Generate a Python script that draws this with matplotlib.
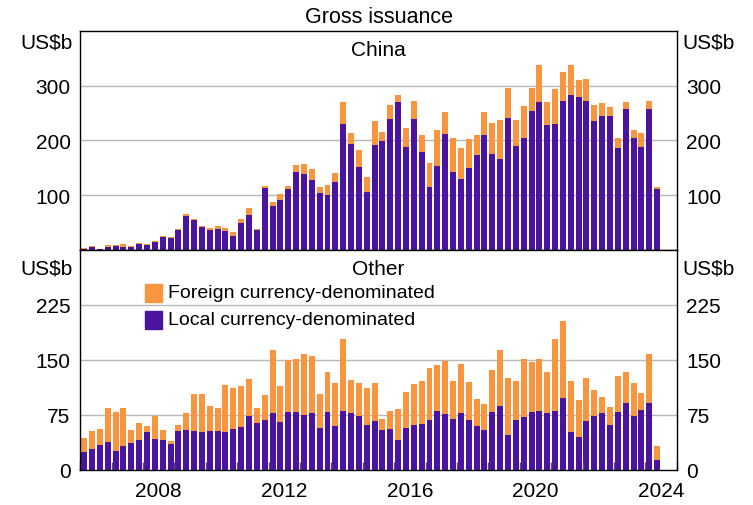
import matplotlib
matplotlib.use("Agg")
import matplotlib.pyplot as plt
import matplotlib.patches as mpatches
import numpy as np
import pandas as pd

plt.rcParams['font.family'] = ['Liberation Sans', 'DejaVu Sans']

# Quarterly, 2006 Q1 to 2024 Q2 (US$b)
quarters = pd.period_range("2006Q1", "2024Q2", freq="Q")

china_local = [2, 6, 1, 5.5, 7, 5.5, 5.5, 11, 9.7, 15,
               24, 22.5, 37, 62.5, 55, 42.5, 37, 39, 35, 26,
               50, 64, 37, 113, 81, 92, 112, 143, 139, 128,
               104, 101, 124, 230, 194, 152, 106, 192, 199, 239,
               270, 188, 239, 179, 115, 154, 212, 143, 130, 150,
               174, 210, 175, 166, 241, 190, 205, 254, 270, 228,
               230, 272, 283, 279, 272, 236, 245, 245, 186, 258,
               205, 188, 258, 112]
china_foreign = [2, 2, 1.5, 4, 3, 6, 2, 2, 2, 2,
                 2, 2, 2, 3.5, 2, 2, 4, 5, 5.5, 7,
                 7, 13, 2, 4, 7, 11, 5, 12, 18, 20,
                 11, 18, 17, 40, 20, 31, 28, 44, 16, 26,
                 13, 35, 33, 31, 44, 66, 40, 62, 56, 53,
                 36, 42, 57, 71, 55, 47, 58, 42, 68, 42,
                 64, 53, 55, 31, 40, 29, 23, 16, 19, 12,
                 14, 26, 14, 3]

other_local = [24.5, 28.6, 34.5, 38.6, 26.4, 33, 37, 41, 52, 42.7,
               41, 36, 53.6, 55, 53.6, 52, 53.6, 53.6, 52, 56.4,
               59, 74, 64.5, 68.6, 78, 66, 79.5, 79.5, 75.5, 78,
               57.7, 79.5, 60.5, 81, 78, 74, 61.8, 67, 55, 56.4,
               41.4, 57.7, 61.8, 63, 68.6, 81, 76.8, 70, 78, 68.6,
               60.5, 55, 79.5, 87.7, 48, 68.6, 72.7, 79.5, 81, 78,
               81, 98.6, 52, 45.5, 67, 74, 78, 61.8, 79.5, 91.8,
               74, 82, 91.8, 14]
other_foreign = [19.5, 25, 22, 46, 52, 52, 17, 23.5, 8.5, 31,
                 14, 4, 8, 23, 50, 51, 34, 31, 64, 55,
                 55, 50, 20.5, 34, 86, 49, 70.5, 72.5, 83, 78,
                 46, 54.5, 58.5, 97, 45, 44, 50, 52, 15, 24.6,
                 42, 49, 56, 59, 71, 62.6, 72, 52, 67, 52,
                 36.5, 35.4, 57, 76, 78, 53, 79, 68, 71, 56,
                 98, 105, 70, 50.5, 59, 35.5, 22, 24.6, 49, 42,
                 44, 23.4, 67, 19]

ORANGE = "#F9943F"
PURPLE = "#4B14A0"
FS = 15

x = np.array([q.year + (q.quarter - 0.5) / 4 for q in quarters])
width = 0.19

fig = plt.figure(figsize=(7.53, 5.06), dpi=100)
ax1 = fig.add_axes([0.1066, 0.504, 0.7921, 0.4328])
ax2 = fig.add_axes([0.1066, 0.0692, 0.7921, 0.4348])

panels = [
    (ax1, china_local, china_foreign, "China", 400, [100, 200, 300], 0.925),
    (ax2, other_local, other_foreign, "Other", 300, [0, 75, 150, 225], 0.893),
]

for ax, local, foreign, name, top, ticks, unit_y in panels:
    ax.bar(x, local, width=width, color=PURPLE, zorder=2)
    ax.bar(x, foreign, width=width, bottom=local, color=ORANGE, zorder=2)
    ax.set_xlim(2006, 2025)
    ax.set_ylim(0, top)
    ax.set_yticks(ticks)
    ax.set_axisbelow(False)
    # gridlines below the bars, axis ticks above them
    for t in ticks:
        if t > 0:
            ax.axhline(t, color="#b8b8b8", lw=1, zorder=1)
    ax.tick_params(axis="y", left=True, right=True, labelleft=True,
                   labelright=True, length=0, pad=7, labelsize=FS)
    for s in ax.spines.values():
        s.set_color("black")
        s.set_linewidth(1)
        s.set_zorder(3)
    ax.text(0.5, 0.89, name, transform=ax.transAxes, ha="center",
            va="baseline", fontsize=FS)
    ax.text(-0.012, unit_y, "US$b", transform=ax.transAxes, ha="right",
            va="baseline", fontsize=FS)
    ax.text(1.01, unit_y, "US$b", transform=ax.transAxes, ha="left",
            va="baseline", fontsize=FS)

# x axis: year boundary ticks, labels in the middle of the year
ax1.set_xticks([])
ax2.set_xticks(np.arange(2006, 2026))
ax2.set_xticklabels([])
ax2.tick_params(axis="x", which="major", direction="in", length=6,
                width=1, color="#555555", top=False)
ax2.set_xticks(np.arange(2008, 2025, 4) + 0.5, minor=True)
ax2.set_xticklabels([str(y) for y in range(2008, 2025, 4)], minor=True)
ax2.tick_params(axis="x", which="minor", length=0, pad=8, labelsize=FS)

# legend
ax2.add_patch(mpatches.Rectangle((0.1085, 0.7636), 0.0285, 0.0818,
                                 color=ORANGE, transform=ax2.transAxes))
ax2.add_patch(mpatches.Rectangle((0.1085, 0.641), 0.0285, 0.0818,
                                 color=PURPLE, transform=ax2.transAxes))
ax2.text(0.147, 0.8045, "Foreign currency-denominated", transform=ax2.transAxes,
         va="center", ha="left", fontsize=14)
ax2.text(0.147, 0.682, "Local currency-denominated", transform=ax2.transAxes,
         va="center", ha="left", fontsize=14)

fig.text(0.5027, 0.955, "Gross issuance", ha="center", va="baseline",
         fontsize=15.5)

fig.savefig("out.png", dpi=100)
